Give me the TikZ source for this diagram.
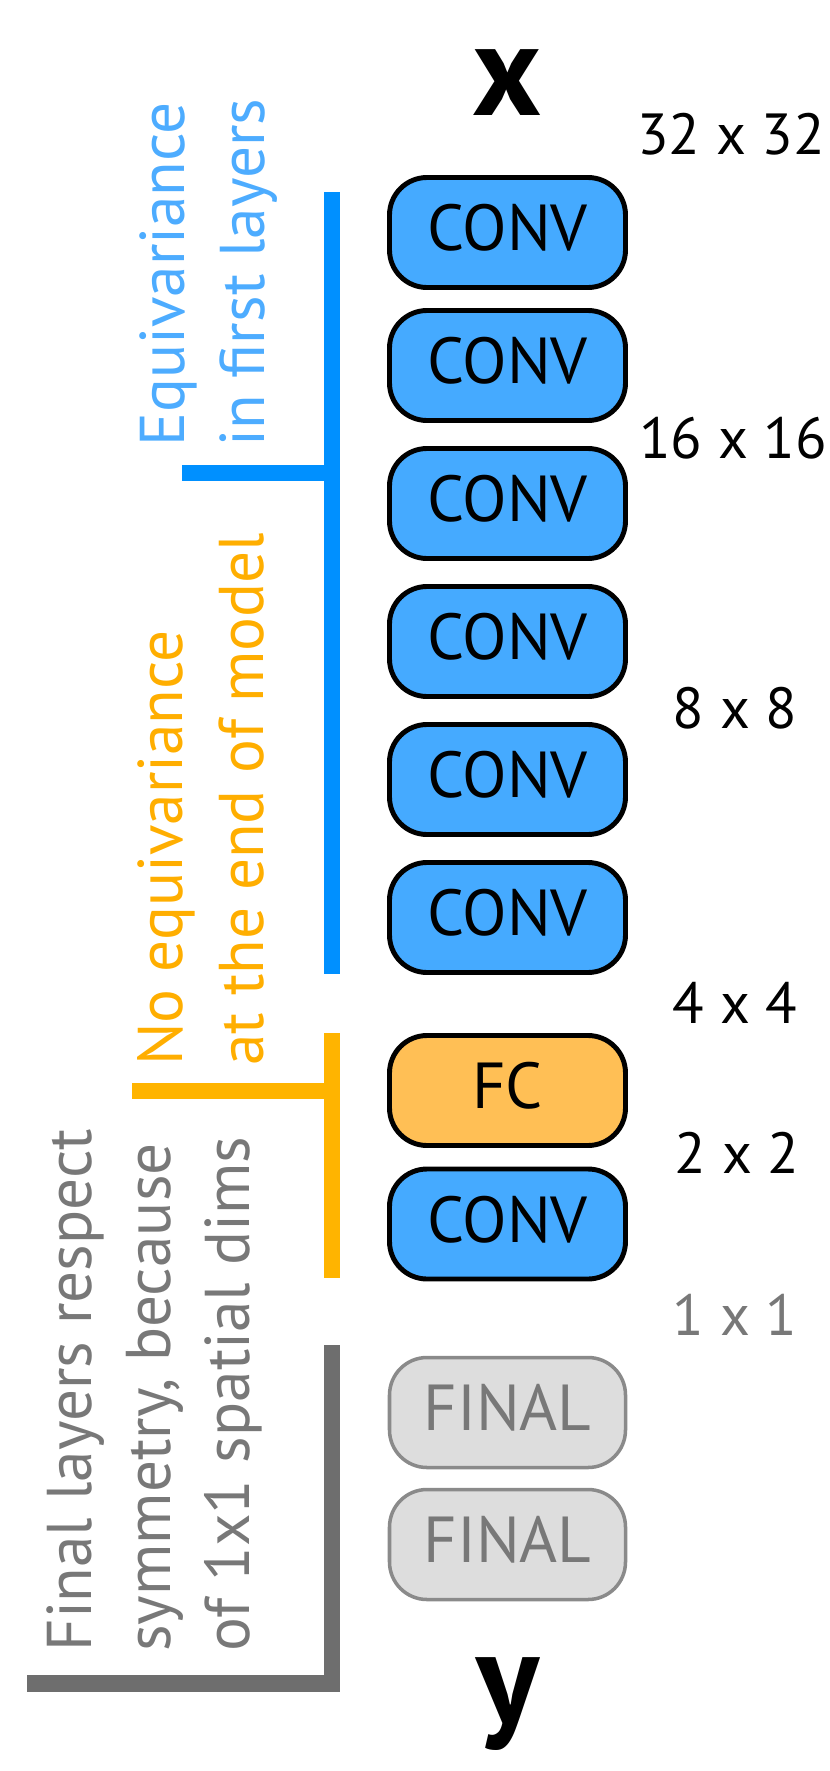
\documentclass[tikz,border=0pt]{standalone}
\usepackage{fontspec}
\setmainfont{PT Sans}
\usetikzlibrary{positioning}
\definecolor{convblue}{RGB}{69,170,255}
\definecolor{barblue}{RGB}{0,144,255}
\definecolor{txtblue}{RGB}{77,172,255}
\definecolor{fcorange}{RGB}{255,191,85}
\definecolor{barorange}{RGB}{255,180,0}
\definecolor{txtorange}{RGB}{255,174,0}
\definecolor{bargray}{RGB}{110,110,110}
\definecolor{txtgray}{RGB}{120,120,120}
\definecolor{fingray}{RGB}{221,221,221}
\definecolor{finedge}{RGB}{138,138,138}

\begin{document}
\begin{tikzpicture}[
  node distance=0.56cm,
  %% bloques de capas
  layer/.style={rectangle, rounded corners=0.75cm,
                draw=#1, line width=2.8pt, outer sep=0pt,
                minimum width=4.72cm, minimum height=2.2cm,
                inner sep=0pt, text depth=0.2cm,
                font=\fontsize{37}{44}\selectfont},
  conv/.style={layer=black, fill=convblue},
  fcl/.style={layer=black, fill=fcorange},
  fin/.style={layer=finedge, fill=fingray, line width=2pt, text=txtgray},
  io/.style={inner sep=0pt, font=\fontsize{75}{80}\selectfont\bfseries},
  dims/.style={font=\fontsize{33}{40}\selectfont},
  side/.style={rotate=90, anchor=north west, align=left, inner sep=0pt,
               text=#1, font=\fontsize{36}{46}\selectfont},
  bar/.style={draw=#1, line width=0.33cm}
]
\useasboundingbox (0,0) rectangle (16.6,-35.42);

%% ── Columna de capas ─────────────────────────────────────────────────────
\node[conv] (conv1) at (10.15,-4.65) {CONV};
\node[conv, below=0.46cm of conv1] (conv2) {CONV};
\node[conv, below=of conv2] (conv3) {CONV};
\node[conv, below=of conv3] (conv4) {CONV};
\node[conv, below=of conv4] (conv5) {CONV};
\node[conv, below=of conv5] (conv6) {CONV};
\node[fcl,  below=1.26cm of conv6] (fc) {FC};
\node[conv, below=0.47cm of fc] (conv7) {CONV};
\node[fin,  below=1.57cm of conv7] (final1) {FINAL};
\node[fin,  below=0.44cm of final1] (final2) {FINAL};

\node[io, above=1.23cm of conv1] (xin) {x};
\node[io, below=1.15cm of final2] (yout) {y};

%% ── Dimensiones espaciales ───────────────────────────────────────────────
\node[dims] (d32) at (14.62,-2.68)  {32 x 32};
\node[dims] (d16) at (14.66,-8.76)  {16 x 16};
\node[dims] (d8)  at (14.70,-14.16) {8 x 8};
\node[dims] (d4)  at (14.70,-20.06) {4 x 4};
\node[dims] (d2)  at (14.74,-23.06) {2 x 2};
\node[dims, text=txtgray] (d1) at (14.70,-26.30) {1 x 1};

%% ── Corchetes ────────────────────────────────────────────────────────────
\coordinate (bluetop) at (6.64,-3.84);
\coordinate (bluebot) at (6.64,-19.48);
\coordinate (bluearm) at (3.64,-9.46);
\draw[bar=barblue] (bluetop) -- (bluebot);
\draw[bar=barblue] (bluearm) -- (bluearm -| bluetop);

\coordinate (orgtop) at (6.64,-20.66);
\coordinate (orgbot) at (6.64,-25.56);
\coordinate (orgarm) at (2.64,-21.82);
\draw[bar=barorange] (orgtop) -- (orgbot);
\draw[bar=barorange] (orgarm) -- (orgarm -| orgtop);

\coordinate (graytop) at (6.64,-26.9);
\coordinate (grayarm) at (0.54,-33.67);
\draw[bar=bargray] (graytop) -- (graytop |- grayarm) -- (grayarm);

%% ── Textos laterales ─────────────────────────────────────────────────────
\node[side=txtblue] (eqtxt) at (2.78,-8.94)
  {Equivariance\\in first layers};
\node[side=txtorange] (noeqtxt) at (2.74,-21.32)
  {No equivariance\\at the end of model};
\node[side=txtgray, font=\fontsize{36}{45}\selectfont] (fintxt) at (0.92,-33.04)
  {Final layers respect\\symmetry, because\\of 1x1 spatial dims};

\end{tikzpicture}
\end{document}
